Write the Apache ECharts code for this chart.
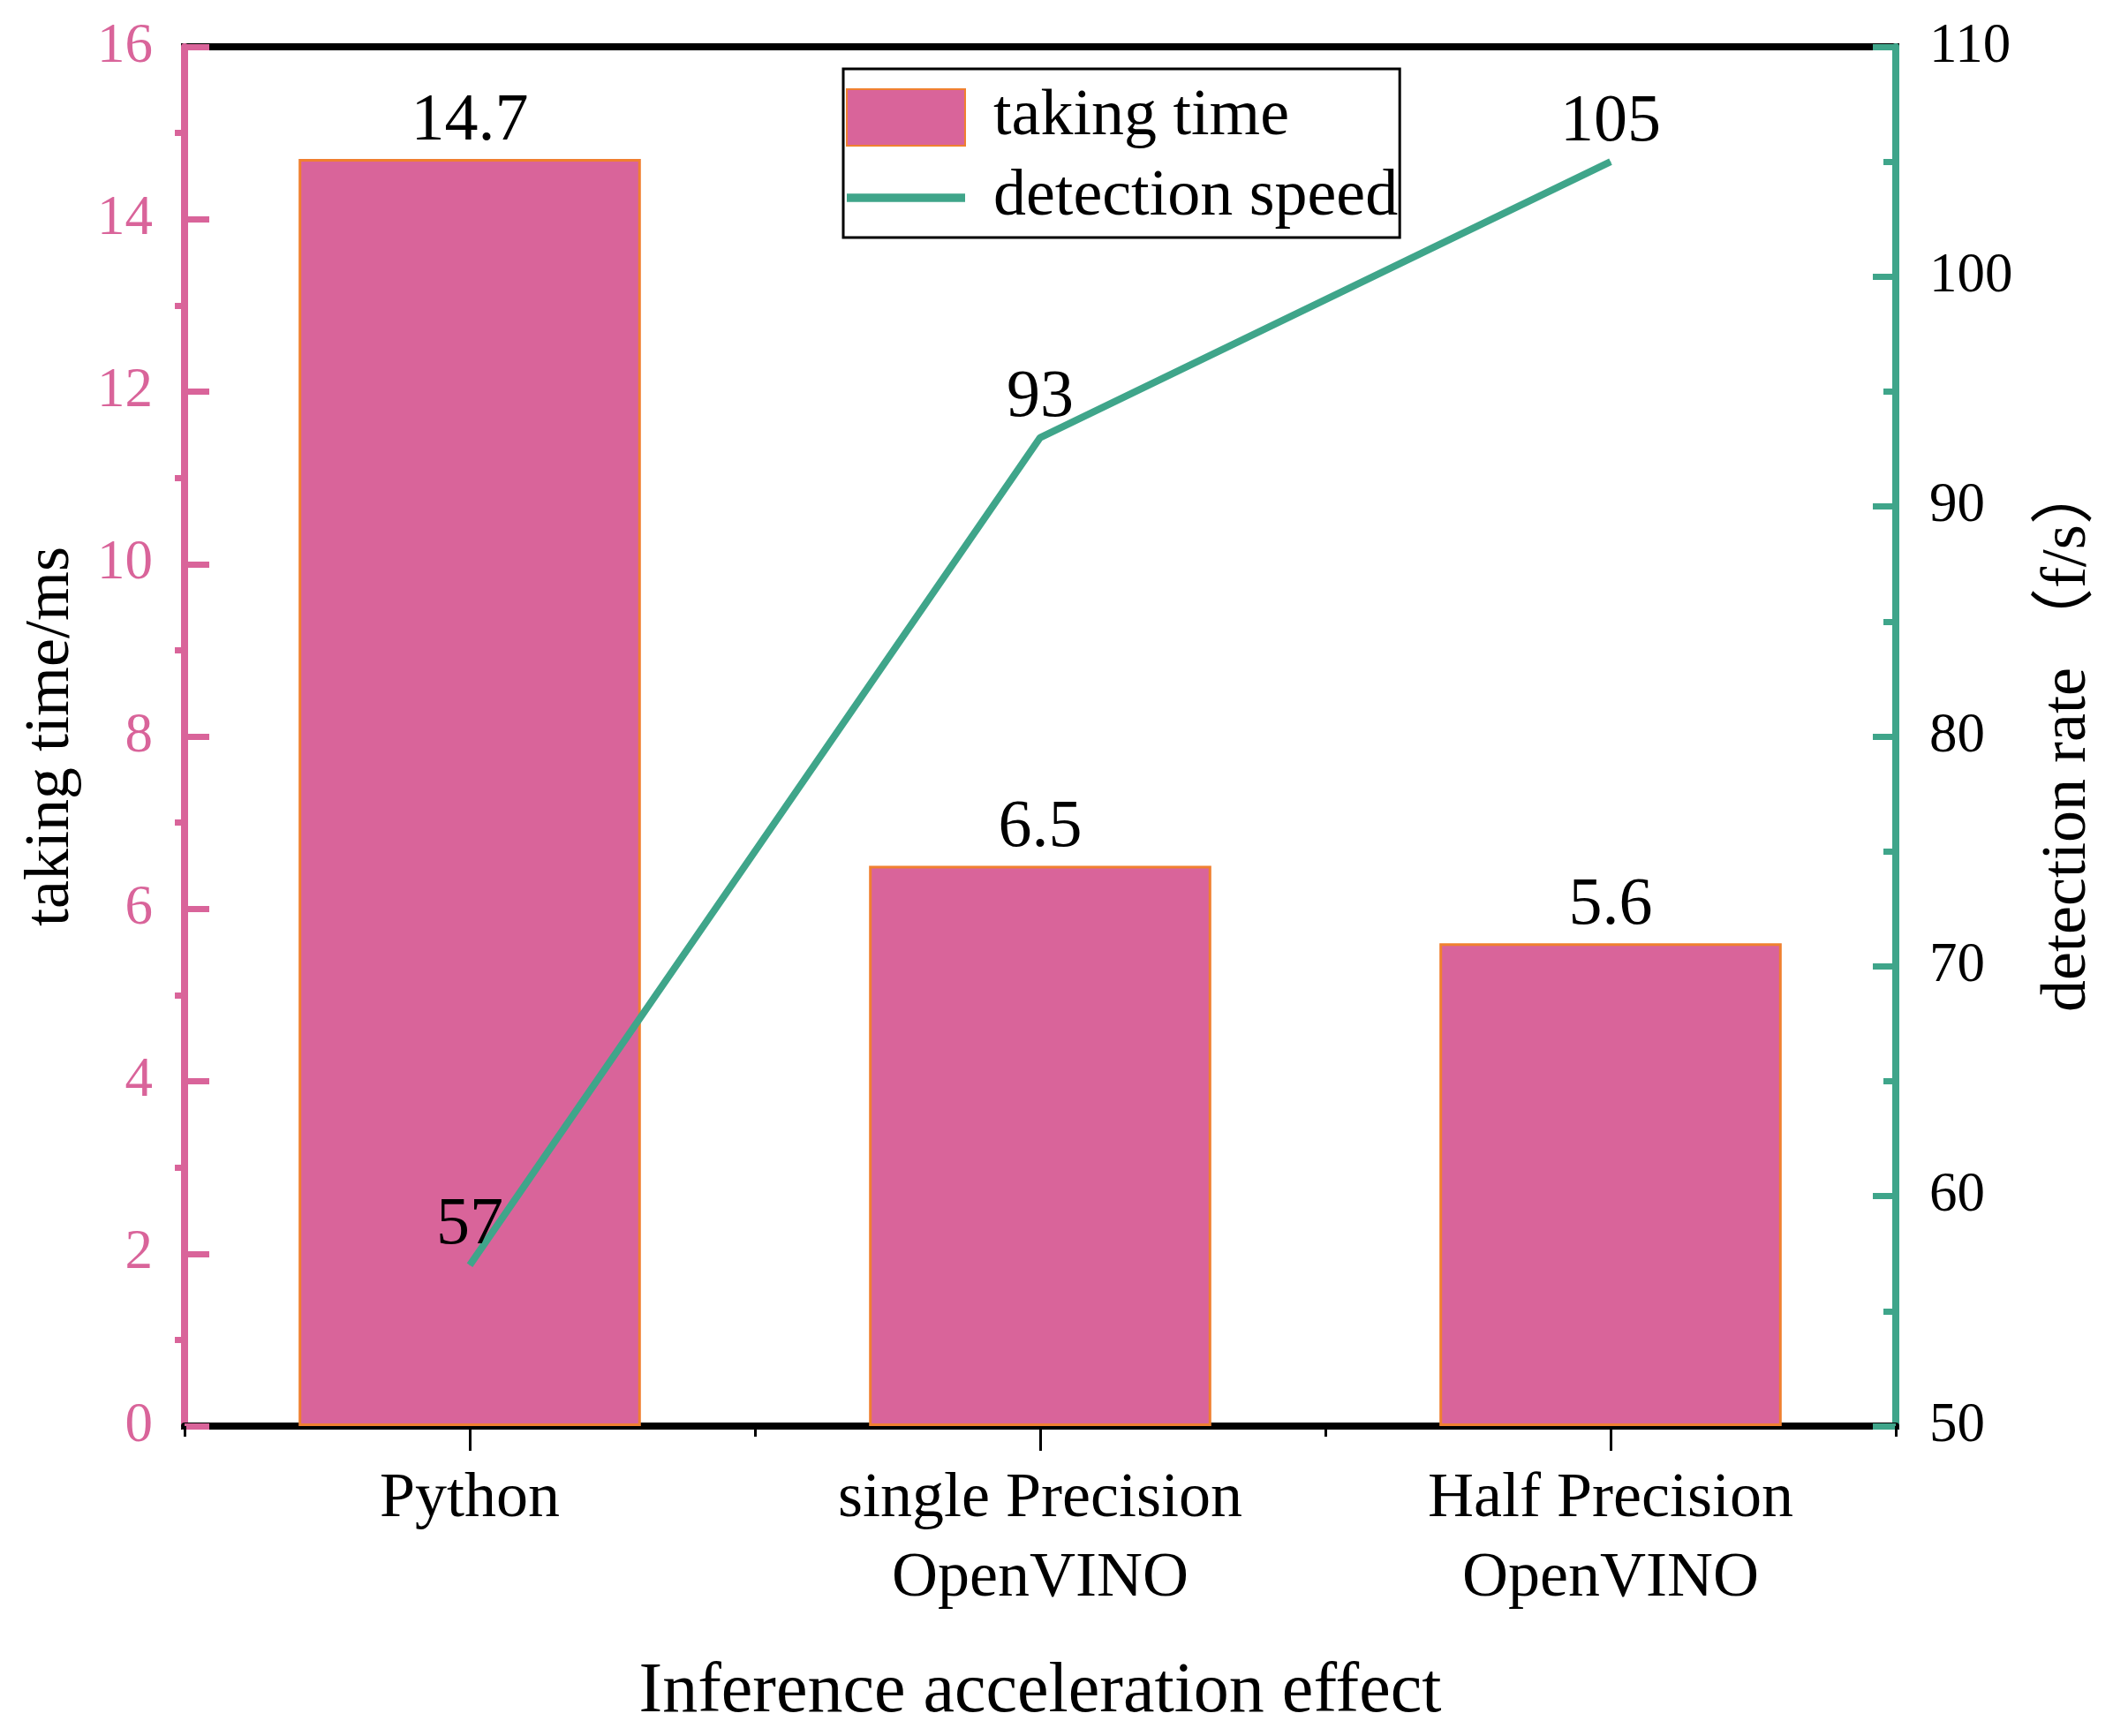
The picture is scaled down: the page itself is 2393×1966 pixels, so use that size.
<!DOCTYPE html>
<html>
<head>
<meta charset="utf-8">
<script src="https://cdn.jsdelivr.net/npm/echarts@6/dist/echarts.min.js"></script>
<style>html,body{margin:0;padding:0;background:#fff;}#c{width:2393px;height:1966px;}</style>
</head>
<body>
<div id="c"></div>
<script>
const categories = ['Python', 'single Precision\nOpenVINO', 'Half Precision\nOpenVINO'];
const takingTime = [14.7, 6.5, 5.6];
const detectionSpeed = [57, 93, 105];
const seriesNames = ['taking time', 'detection speed'];

const FONT = '"Liberation Serif", "Times New Roman", "Noto Sans CJK SC", serif';
const PINK = '#D9649A';
const TEAL = '#3FA58A';
const ORANGE = '#F08030';

const chart = echarts.init(document.getElementById('c'), null, {renderer: 'canvas'});
chart.setOption({
  backgroundColor: '#fff',
  animation: false,
  textStyle: {fontFamily: FONT},
  grid: {left: 209, right: 246, top: 53, bottom: 351, show: true, borderColor: '#000', borderWidth: 8, containLabel: false},
  legend: {
    left: 955, top: 78,
    orient: 'vertical',
    itemWidth: 134, itemHeight: 64, itemGap: 17,
    padding: [18, 2, 8, 3],
    borderColor: '#000', borderWidth: 3,
    backgroundColor: '#fff',
    textStyle: {fontFamily: FONT, fontSize: 74, color: '#000', padding: [0, 0, 0, 27]},
    data: [
      {name: seriesNames[0], icon: 'rect'},
      {name: seriesNames[1], icon: 'path://M0,0H140V10H0Z'}
    ]
  },
  xAxis: [{
    type: 'category',
    data: categories,
    position: 'bottom',
    name: 'Inference acceleration effect',
    nameLocation: 'middle',
    nameGap: 262,
    nameTextStyle: {fontFamily: FONT, fontSize: 80, color: '#000'},
    axisLine: {show: true, onZero: false, lineStyle: {color: '#000', width: 8}},
    axisTick: {show: true, alignWithLabel: true, length: 28, lineStyle: {color: '#000', width: 3}},
    axisLabel: {fontFamily: FONT, fontSize: 72, color: '#000', margin: 38, lineHeight: 90, interval: 0},
    splitLine: {show: false}
  }, {
    type: 'category',
    data: categories,
    position: 'bottom',
    axisLine: {show: false, onZero: false},
    axisTick: {show: true, length: 12, lineStyle: {color: '#000', width: 3}},
    axisLabel: {show: false},
    splitLine: {show: false}
  }],
  yAxis: [{
    type: 'value',
    position: 'left',
    min: 0, max: 16, interval: 2,
    name: 'taking time/ms',
    nameLocation: 'middle',
    nameRotate: 90,
    nameGap: 115,
    nameTextStyle: {fontFamily: FONT, fontSize: 72, color: '#000'},
    axisLine: {show: true, lineStyle: {color: PINK, width: 8}},
    axisTick: {show: true, inside: true, length: 28, lineStyle: {color: PINK, width: 7}},
    minorTick: {show: true, splitNumber: 2, length: -11, lineStyle: {color: PINK, width: 7}},
    axisLabel: {fontFamily: FONT, fontSize: 63, color: PINK, margin: 36},
    splitLine: {show: false}
  }, {
    type: 'value',
    position: 'right',
    min: 50, max: 110, interval: 10,
    name: 'detection rate （f/s）',
    nameLocation: 'middle',
    nameRotate: 90,
    nameGap: 159,
    nameTextStyle: {fontFamily: FONT, fontSize: 72, color: '#000'},
    axisLine: {show: true, lineStyle: {color: TEAL, width: 8}},
    axisTick: {show: true, inside: true, length: 26, lineStyle: {color: TEAL, width: 7}},
    minorTick: {show: true, splitNumber: 2, length: 14, lineStyle: {color: TEAL, width: 7}},
    axisLabel: {fontFamily: FONT, fontSize: 63, color: '#000', margin: 38},
    splitLine: {show: false}
  }],
  series: [{
    name: seriesNames[0],
    type: 'bar',
    xAxisIndex: 0, yAxisIndex: 0,
    data: takingTime,
    barWidth: '60%',
    itemStyle: {color: PINK, borderColor: ORANGE, borderWidth: 3},
    label: {show: true, position: 'top', distance: 4, fontFamily: FONT, fontSize: 76, color: '#000'}
  }, {
    name: seriesNames[1],
    type: 'line',
    xAxisIndex: 0, yAxisIndex: 1,
    data: detectionSpeed,
    symbol: 'circle',
    symbolSize: 1,
    showSymbol: true,
    itemStyle: {color: TEAL},
    lineStyle: {color: TEAL, width: 8},
    label: {show: true, position: 'top', distance: 6, fontFamily: FONT, fontSize: 76, color: '#000'},
    z: 5
  }]
});
</script>
</body>
</html>
